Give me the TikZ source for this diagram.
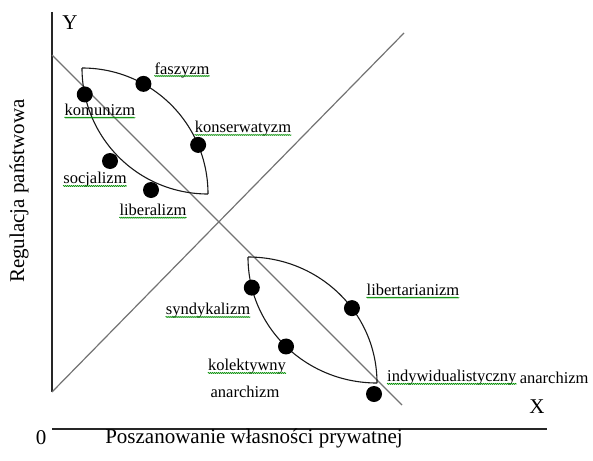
\documentclass[tikz,border=0pt]{standalone}
\usepackage{fontspec}
\setmainfont{Liberation Serif}
\usetikzlibrary{decorations.pathmorphing}
\begin{document}
\begin{tikzpicture}[x=1pt,y=-1pt,
  lbl/.style={font=\fontsize{16.5}{25}\selectfont, inner sep=0pt},
  big/.style={font=\fontsize{21}{24}\selectfont, inner sep=0pt},
  dot/.style={circle, fill=black, minimum size=16pt, inner sep=0pt},
  axis/.style={line width=1.4pt, black!85},
  diag/.style={line width=1.2pt, black!55},
  lens/.style={line width=1.1pt, black!90},
  spell/.style={draw=green!55!black, line width=0.7pt, decorate,
    decoration={zigzag, amplitude=0.5pt, segment length=2pt}}
]
\useasboundingbox (0,0) rectangle (593,460);

% axes
\coordinate (ytop) at (52,12);
\coordinate (ybot) at (52,392);
\coordinate (xl) at (52,429);
\coordinate (xr) at (547,429);
\draw[axis] (ytop) -- (ybot);
\draw[axis] (xl) -- (xr);

% diagonals
\coordinate (d1a) at (52,55);
\coordinate (d1b) at (402,405);
\coordinate (d2b) at (404,33);
\draw[diag] (d1a) -- (d1b);
\draw[diag] (ybot) -- (d2b);

% upper lens
\coordinate (ua) at (82,68);
\coordinate (ub) at (208,194);
\draw[lens] (ua) to[out=0,in=90]
  node[dot,pos=0.32] (dfas) {}
  node[dot,pos=0.75] (dkon) {} (ub);
\draw[lens] (ua) to[out=-90,in=180]
  node[dot,pos=0.13] (dkom) {} (ub);
\node[dot] (dsoc) at (110,161) {};
\node[dot] (dlib) at (151,190) {};

% lower lens
\coordinate (la) at (248,257);
\coordinate (lb) at (377,383);
\draw[lens] (la) to[out=0,in=90]
  node[dot,pos=0.6] (dlbt) {} (lb);
\draw[lens] (la) to[out=-90,in=180]
  node[dot,pos=0.15] (dsyn) {}
  node[dot,pos=0.5] (dkol) {} (lb);
\node[dot] (dind) at (374,394) {};

% labels
\node[lbl] (tkom) at (100,110) {komunizm};
\node[lbl] (tfas) at (182,70) {faszyzm};
\node[lbl] (tkon) at (243,129) {konserwatyzm};
\node[lbl] (tsoc) at (95,180) {socjalizm};
\node[lbl] (tlib) at (153,210) {liberalizm};
\node[lbl] (tsyn) at (208,311) {syndykalizm};
\node[lbl] (tkol) at (247,367) {kolektywny};
\node[lbl] (tkan) at (245,392) {anarchizm};
\node[lbl] (tlbt) at (413,290) {libertarianizm};
\node[lbl,anchor=west] (tind) at (387,378) {indywidualistyczny};
\node[lbl,anchor=west] (tian) at ([xshift=3pt]tind.east) {anarchizm};

\foreach \t in {tkom,tfas,tkon,tsoc,tlib,tsyn,tkol,tlbt,tind}
  \draw[spell] ([yshift=-2pt]\t.base west) -- ([yshift=-2pt]\t.base east);

% axis captions
\node[big] (ly) at (70,23) {Y};
\node[big] (lx) at (537,407) {X};
\node[big] (l0) at (41,438) {0};
\node[big] (lxt) at (254,438) {Poszanowanie własności prywatnej};
\node[big,rotate=90] (lyt) at (19,191) {Regulacja państwowa};
\end{tikzpicture}
\end{document}
